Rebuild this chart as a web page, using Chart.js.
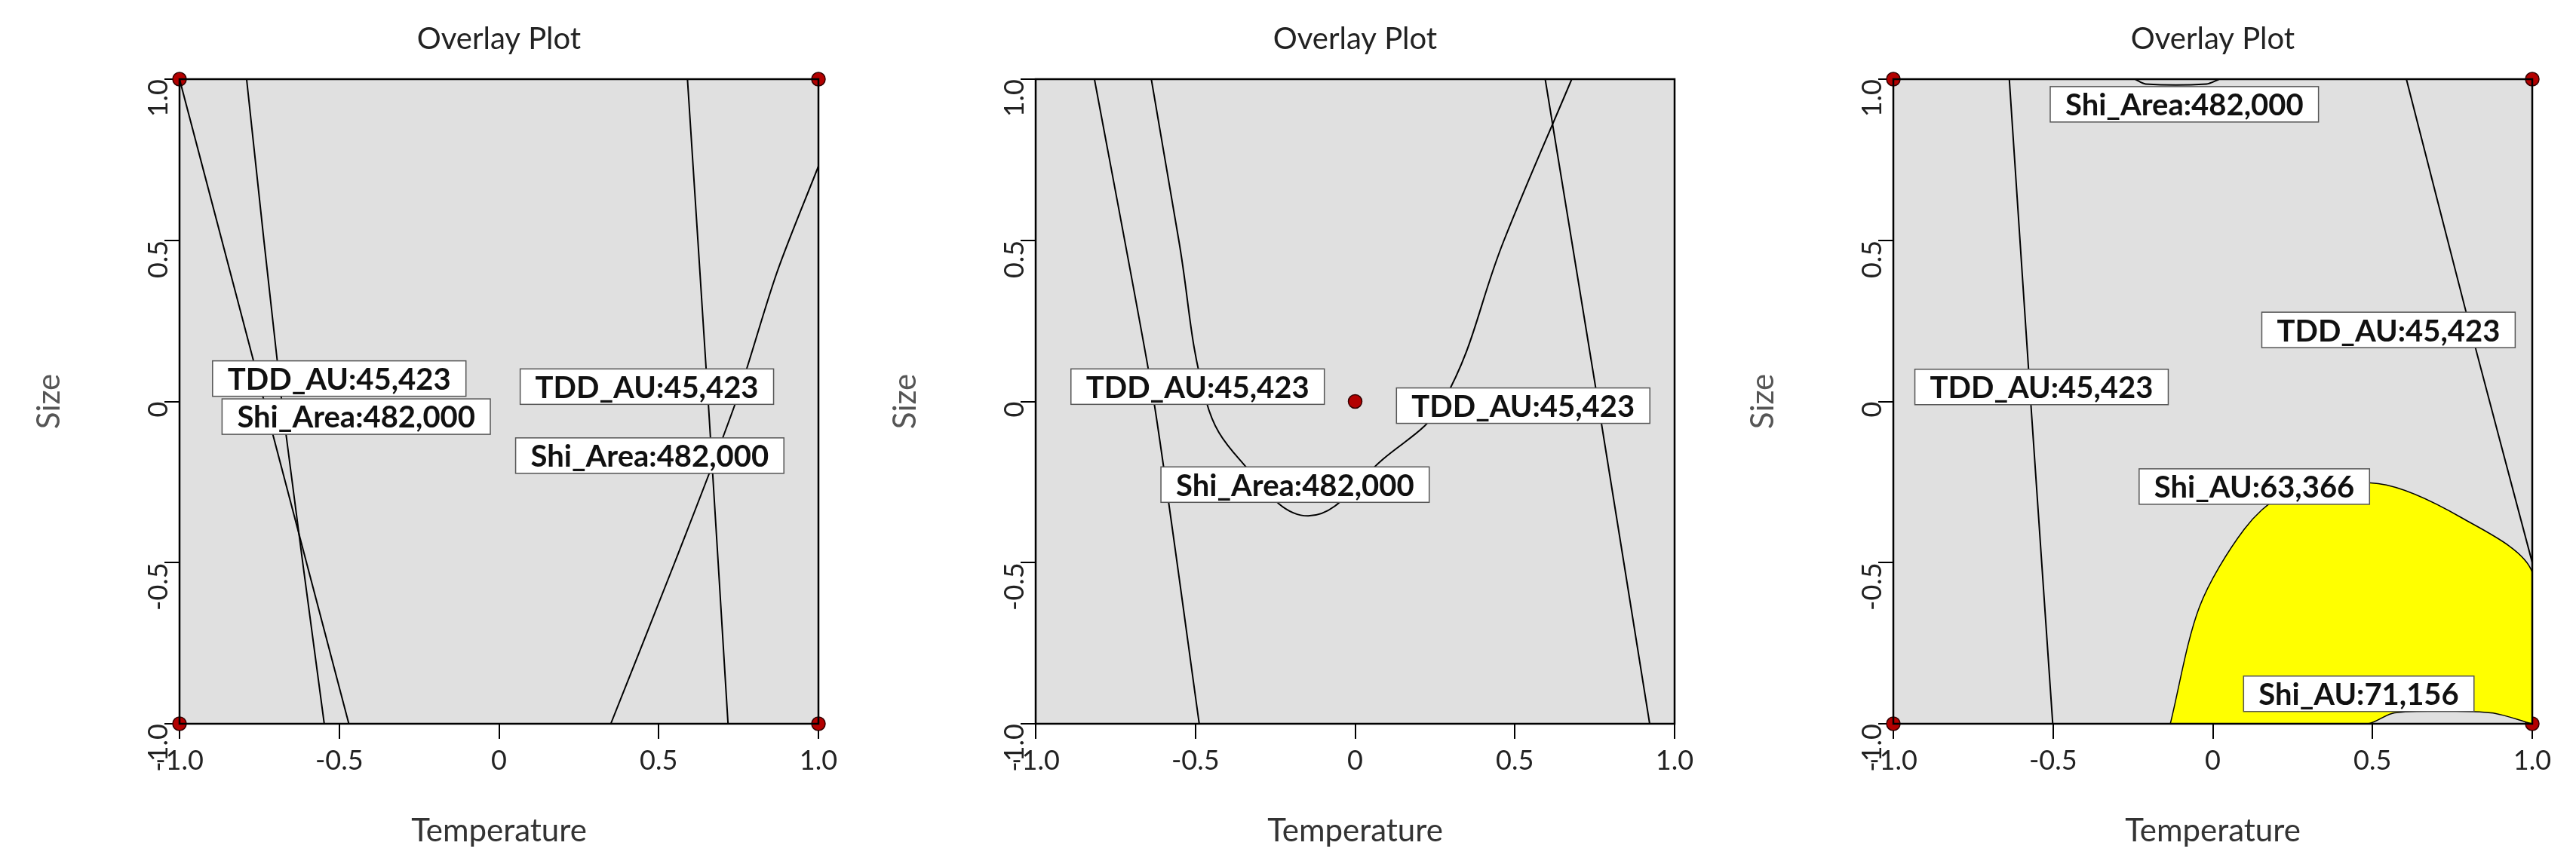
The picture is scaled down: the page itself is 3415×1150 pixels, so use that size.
<!DOCTYPE html>
<html>
<head>
<meta charset="utf-8">
<script src="https://cdn.jsdelivr.net/npm/chart.js@4/dist/chart.umd.min.js"></script>
<style>
  body { margin: 0; background: #fff; }
  .panel { position: absolute; top: 0; width: 1140px; height: 1150px; }
</style>
</head>
<body>
<div class="panel" style="left:0"><canvas id="c1" width="1140" height="1150"></canvas></div>
<div class="panel" style="left:1135px"><canvas id="c2" width="1140" height="1150"></canvas></div>
<div class="panel" style="left:2272px"><canvas id="c3" width="1140" height="1150"></canvas></div>
<script>
// 轴刻度
const tickValues = [-1, -0.5, 0, 0.5, 1];
const cornerDots = [{x: -1, y: 1}, {x: 1, y: 1}, {x: -1, y: -1}, {x: 1, y: -1}];

// 图 1 等值线
const p1TddLeft = [{x: -0.79, y: 1}, {x: -0.68, y: 0}, {x: -0.547, y: -1}];
const p1AreaLeft = [{x: -1, y: 1}, {x: -0.47, y: -1}];
const p1TddRight = [{x: 0.59, y: 1}, {x: 0.655, y: 0}, {x: 0.717, y: -1}];
const p1AreaRight = [{x: 0.35, y: -1}, {x: 0.55, y: -0.5}, {x: 0.742, y: 0}, {x: 0.87, y: 0.4}, {x: 1, y: 0.73}];
const p1Labels = [
  {text: 'TDD_AU:45,423', x: -0.5, y: 0.071},
  {text: 'Shi_Area:482,000', x: -0.447, y: -0.047},
  {text: 'TDD_AU:45,423', x: 0.463, y: 0.046},
  {text: 'Shi_Area:482,000', x: 0.472, y: -0.168}
];

// 图 2 等值线
const p2TddLeft = [{x: -0.816, y: 1}, {x: -0.63, y: 0}, {x: -0.488, y: -1}];
const p2Area = [{x: -0.638, y: 1}, {x: -0.552, y: 0.5}, {x: -0.466, y: 0}, {x: -0.362, y: -0.18},
  {x: -0.147, y: -0.355}, {x: 0.086, y: -0.18}, {x: 0.276, y: 0}, {x: 0.466, y: 0.5}, {x: 0.678, y: 1}];
const p2TddRight = [{x: 0.595, y: 1}, {x: 0.76, y: 0}, {x: 0.922, y: -1}];
const p2Center = [{x: 0, y: 0}];
const p2Labels = [
  {text: 'TDD_AU:45,423', x: -0.493, y: 0.046},
  {text: 'TDD_AU:45,423', x: 0.526, y: -0.013},
  {text: 'Shi_Area:482,000', x: -0.188, y: -0.258}
];

// 图 3 等值线
const p3TddLeft = [{x: -0.637, y: 1}, {x: -0.57, y: 0}, {x: -0.501, y: -1}];
const p3TddRight = [{x: 0.606, y: 1}, {x: 0.8, y: 0.25}, {x: 1, y: -0.5}];
const p3AreaTop = [{x: -0.243, y: 1}, {x: -0.21, y: 0.985}, {x: -0.02, y: 0.985}, {x: 0.02, y: 1}];
const p3Feasible = [{x: -0.133, y: -1}, {x: -0.042, y: -0.638}, {x: 0.098, y: -0.397}, {x: 0.221, y: -0.293},
  {x: 0.518, y: -0.255}, {x: 0.781, y: -0.362}, {x: 1, y: -0.53}, {x: 1, y: -1}, {x: 0.87, y: -0.966},
  {x: 0.57, y: -0.966}, {x: 0.483, y: -1}, {x: -0.133, y: -1}];
const p3Labels = [
  {text: 'Shi_Area:482,000', x: -0.089, y: 0.922},
  {text: 'TDD_AU:45,423', x: 0.55, y: 0.222},
  {text: 'TDD_AU:45,423', x: -0.536, y: 0.045},
  {text: 'Shi_AU:63,366', x: 0.13, y: -0.264},
  {text: 'Shi_AU:71,156', x: 0.457, y: -0.907}
];

function contour(data, tension) {
  return {data: data, showLine: true, borderColor: '#000', borderWidth: 2, pointRadius: 0,
    tension: tension || 0, fill: false};
}
function dots(data) {
  return {data: data, showLine: false, pointRadius: 9, pointBackgroundColor: '#b30000',
    pointBorderColor: '#300', pointBorderWidth: 1.5, clip: false};
}

const overlayPlugin = {
  id: 'overlay',
  beforeDatasetsDraw(chart) {
    const a = chart.chartArea, ctx = chart.ctx;
    ctx.save();
    ctx.fillStyle = '#e0e0e0';
    ctx.fillRect(a.left, a.top, a.width, a.height);
    ctx.restore();
  },
  afterDatasetsDraw(chart) {
    const a = chart.chartArea, ctx = chart.ctx;
    ctx.save();
    ctx.strokeStyle = '#000';
    ctx.lineWidth = 2.5;
    ctx.strokeRect(a.left, a.top, a.width, a.height);
    // 标签
    ctx.font = 'bold 40px Lato';
    ctx.textAlign = 'center';
    ctx.textBaseline = 'middle';
    for (const l of chart.options.plugins.overlay.labels) {
      const px = chart.scales.x.getPixelForValue(l.x);
      const py = chart.scales.y.getPixelForValue(l.y);
      const w = ctx.measureText(l.text).width + 40, h = 47;
      ctx.fillStyle = '#fff';
      ctx.fillRect(px - w / 2, py - h / 2, w, h);
      ctx.strokeStyle = '#555';
      ctx.lineWidth = 1.5;
      ctx.strokeRect(px - w / 2, py - h / 2, w, h);
      ctx.fillStyle = '#111';
      ctx.fillText(l.text, px, py + 2);
    }
    // 标题
    ctx.font = '40px Lato';
    ctx.fillStyle = '#222';
    ctx.fillText('Overlay Plot', (a.left + a.right) / 2, 52);
    ctx.restore();
  }
};

function makeChart(id, datasets, labels) {
  const tickFont = {family: 'Lato', size: 36};
  const gridOpt = {display: true, drawOnChartArea: false, drawTicks: true, tickLength: 20, color: '#000', lineWidth: 2};
  new Chart(document.getElementById(id), {
    type: 'scatter',
    data: {datasets: datasets},
    options: {
      responsive: false,
      animation: false,
      layout: {padding: {left: 40, right: 55, top: 105, bottom: 0}},
      plugins: {legend: {display: false}, tooltip: {enabled: false}, overlay: {labels: labels}},
      scales: {
        x: {
          type: 'linear', min: -1, max: 1,
          afterBuildTicks: s => { s.ticks = tickValues.map(v => ({value: v})); },
          afterFit: s => { s.height = 190; },
          grid: gridOpt, border: {display: true, color: '#000', width: 2},
          ticks: {font: tickFont, color: '#222', padding: 8, maxRotation: 0},
          title: {display: true, text: 'Temperature', font: {family: 'Lato', size: 42}, color: '#333', padding: {top: 0, bottom: 22}}
        },
        y: {
          type: 'linear', min: -1, max: 1,
          afterBuildTicks: s => { s.ticks = tickValues.map(v => ({value: v})); },
          afterFit: s => { s.width = 198; },
          grid: gridOpt, border: {display: true, color: '#000', width: 2},
          ticks: {font: tickFont, color: '#222', padding: 8, minRotation: 90, maxRotation: 90},
          title: {display: true, text: 'Size', font: {family: 'Lato', size: 42}, color: '#555', padding: {top: 0, bottom: 22}}
        }
      }
    },
    plugins: [overlayPlugin]
  });
}

makeChart('c1', [
  contour(p1TddLeft, 0.2), contour(p1AreaLeft), contour(p1TddRight, 0.2), contour(p1AreaRight, 0.3),
  dots(cornerDots)
], p1Labels);

makeChart('c2', [
  contour(p2TddLeft, 0.2), contour(p2Area, 0.4), contour(p2TddRight, 0.2), dots(p2Center)
], p2Labels);

makeChart('c3', [
  Object.assign(contour(p3Feasible, 0.3), {fill: 'shape', backgroundColor: '#ffff00', borderWidth: 1.5}),
  contour(p3TddLeft, 0.2), contour(p3TddRight, 0.2), contour(p3AreaTop, 0.3),
  dots(cornerDots)
], p3Labels);
</script>
</body>
</html>
